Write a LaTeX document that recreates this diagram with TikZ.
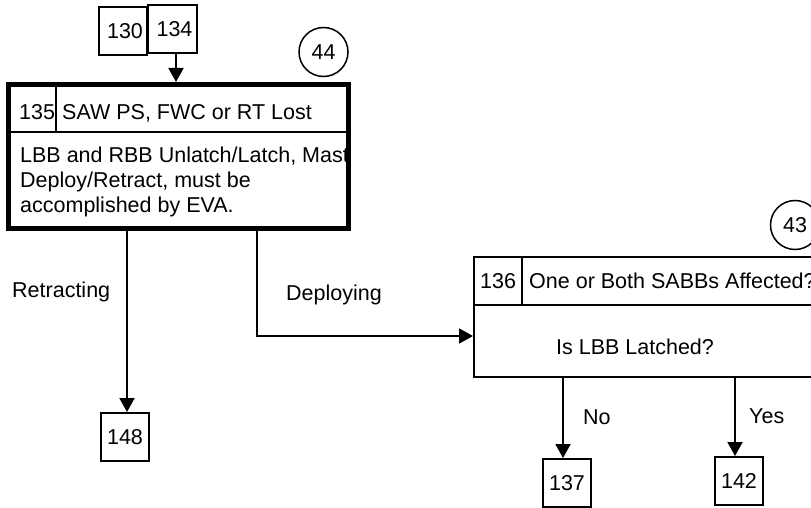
\documentclass[tikz,border=0pt]{standalone}
\usepackage{fontspec}
\setmainfont{Liberation Sans}
\usetikzlibrary{arrows.meta}
\begin{document}
\begin{tikzpicture}[x=1pt,y=-1pt,
  every node/.style={font=\fontsize{21.5}{24.5}\selectfont, inner sep=0pt},
  thin line/.style={line width=2pt},
  refbox/.style={draw, line width=2pt, minimum width=48pt, minimum height=48pt},
  arr/.style={line width=2pt, -{Triangle[length=14pt,width=15pt]}},
  txt/.style={anchor=base west},
  circ/.style={draw, circle, line width=1.5pt, minimum size=49pt}]
\clip (0,0) rectangle (811,508);
\fill[white] (0,0) rectangle (811,508);
% top reference boxes
\node[refbox] (b130) at (123,31) {\hspace*{4pt}130};
\node[refbox, minimum width=49pt] (b134) at (172.5,29) {\hspace*{4pt}134};
\node[circ] (c44) at (323.5,52) {44};
% box 135
\node[txt] (l1) at (20,163) {LBB and RBB Unlatch/Latch, Mast};
\node[txt] (l2) at (20,187.5) {Deploy/Retract, must be};
\node[txt] (l3) at (20,212) {accomplished by EVA.};
\node[draw, line width=5pt, minimum width=340pt, minimum height=144pt] (b135) at (178,156.5) {};
\draw[thin line] (8,132) -- (348,132);
\draw[thin line] (56,84.5) -- (56,132);
\node[txt] (t135) at (19,120) {135};
\node[txt] (h135) at (62,120) {SAW PS, FWC or RT Lost};
\draw[arr] ([xshift=3.5pt]b134.south) -- ([xshift=3.5pt]b134.south |- b135.north);
% retracting branch
\node[refbox] (b148) at (125,437) {148};
\draw[arr] ([xshift=2pt]b148.north |- b135.south) -- ([xshift=2pt]b148.north);
\node[txt] (lr) at (12,297) {Retracting};
% box 136
\node[draw, line width=2pt, minimum width=356pt, minimum height=120pt] (b136) at (652,317) {};
\draw[thin line] (474,305) -- (830,305);
\draw[thin line] (522,257) -- (522,305);
\node[txt] (t136) at (480,288) {136};
\node[txt] (h136) at (529,288) {One or Both SABBs Affected?};
\node (q136) at (635,347) {Is LBB Latched?};
\node[circ] (c43) at (795,225) {43};
% deploying branch
\coordinate (dp) at (257,336);
\node[txt] (ld) at (286,300) {Deploying};
\draw[arr] ([yshift=3pt]dp |- b135.south) -- (dp) -- (dp -| b136.west);
% no / yes
\node[refbox] (b137) at (567,483) {137};
\node[refbox] (b142) at (739,481) {142};
\draw[arr] ([xshift=-4pt]b137.north |- b136.south) -- ([xshift=-4pt]b137.north);
\draw[arr] ([xshift=-4pt]b142.north |- b136.south) -- ([xshift=-4pt]b142.north);
\node[txt] (lno) at (583,424) {No};
\node[txt] (lyes) at (749,423) {Yes};
\end{tikzpicture}
\end{document}
